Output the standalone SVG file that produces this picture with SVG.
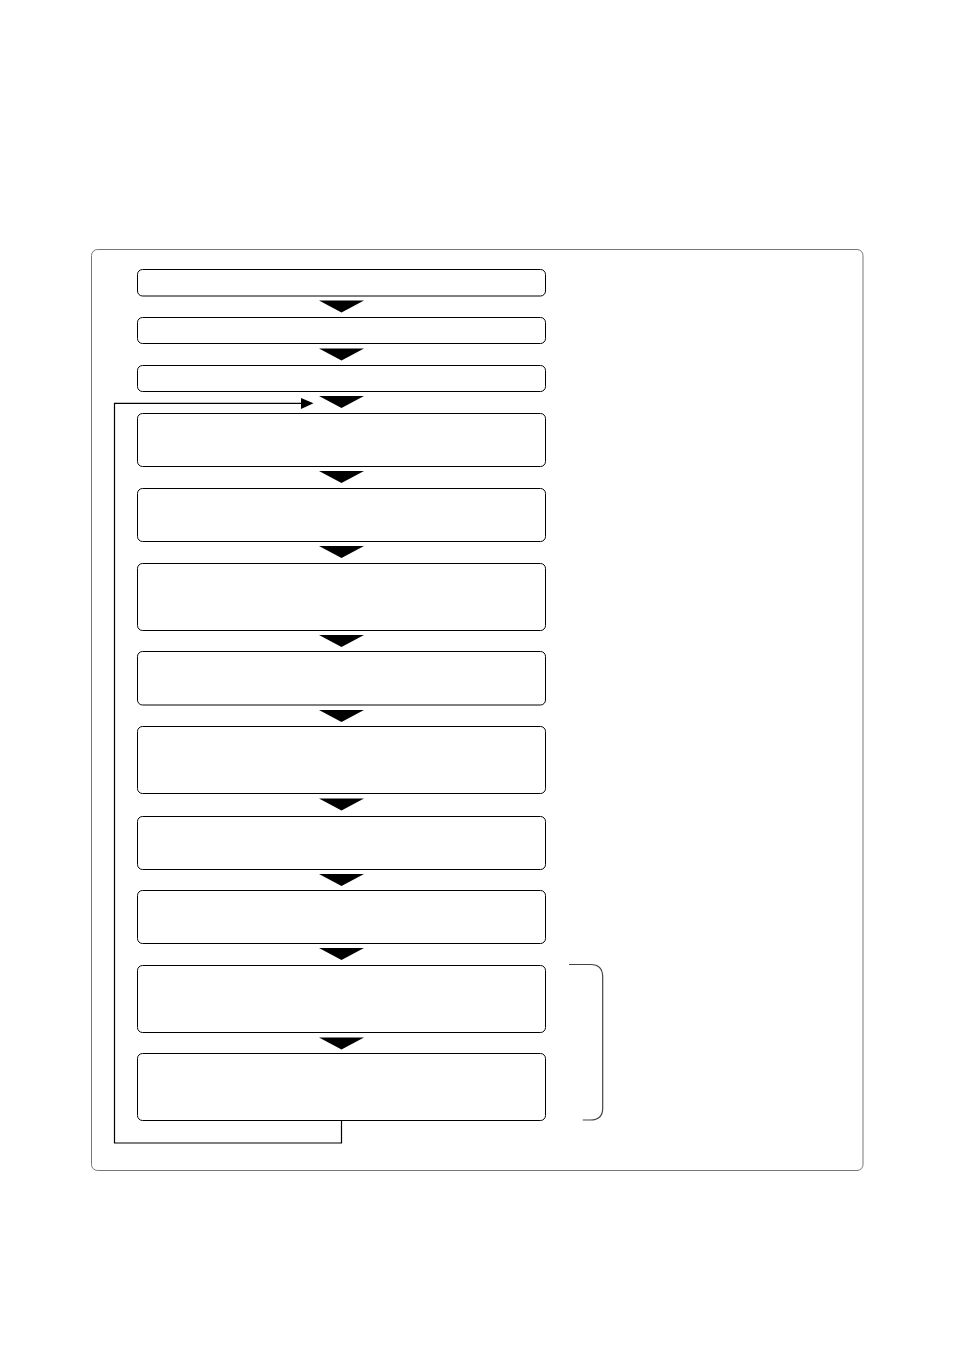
<svg xmlns="http://www.w3.org/2000/svg" width="954" height="1351" viewBox="0 0 954 1351">
<style>
.frame{fill:none;stroke:#777;stroke-width:1}
.box{fill:#fff;stroke:#000;stroke-width:1}
.tri{fill:#000;stroke:none}
.line{fill:none;stroke:#000;stroke-width:1.2}
.brk{fill:none;stroke:#444;stroke-width:1.2}
</style>
<defs>
<polygon id="down" class="tri" points="-22.5,0 22.5,0 0,12"/>
</defs>
<rect width="954" height="1351" fill="#fff"/>
<rect class="frame" x="91.5" y="249.5" width="771.5" height="921" rx="6"/>
<g id="nodes">
<g id="n1"><rect class="box" x="137.5" y="269.5" width="408" height="26.5" rx="5"/></g>
<g id="n2"><rect class="box" x="137.5" y="317.5" width="408" height="26" rx="5"/></g>
<g id="n3"><rect class="box" x="137.5" y="365.5" width="408" height="26" rx="5"/></g>
<g id="n4"><rect class="box" x="137.5" y="413.5" width="408" height="53" rx="5"/></g>
<g id="n5"><rect class="box" x="137.5" y="488.5" width="408" height="53" rx="5"/></g>
<g id="n6"><rect class="box" x="137.5" y="563.5" width="408" height="67" rx="5"/></g>
<g id="n7"><rect class="box" x="137.5" y="651.5" width="408" height="53.5" rx="5"/></g>
<g id="n8"><rect class="box" x="137.5" y="726.5" width="408" height="67" rx="5"/></g>
<g id="n9"><rect class="box" x="137.5" y="816.5" width="408" height="53" rx="5"/></g>
<g id="n10"><rect class="box" x="137.5" y="890.5" width="408" height="53" rx="5"/></g>
<g id="n11"><rect class="box" x="137.5" y="965.5" width="408" height="67" rx="5"/></g>
<g id="n12"><rect class="box" x="137.5" y="1053.5" width="408" height="67" rx="5"/></g>
</g>
<g id="connectors">
<use href="#down" x="341.5" y="300.5"/>
<use href="#down" x="341.5" y="348.5"/>
<use href="#down" x="341.5" y="396"/>
<use href="#down" x="341.5" y="471"/>
<use href="#down" x="341.5" y="546"/>
<use href="#down" x="341.5" y="635"/>
<use href="#down" x="341.5" y="710"/>
<use href="#down" x="341.5" y="798.5"/>
<use href="#down" x="341.5" y="874"/>
<use href="#down" x="341.5" y="948"/>
<use href="#down" x="341.5" y="1037.5"/>
<polyline class="line" points="341.5,1120.5 341.5,1143 114.5,1143 114.5,403.3 302,403.3"/>
<polygon class="tri" points="301,398 313.5,403.3 301,409"/>
</g>
<path class="brk" d="M569,964.5 H590.5 Q602.7,964.5 602.7,977 V1108 Q602.7,1120 590.5,1120 H582.7"/>
</svg>
